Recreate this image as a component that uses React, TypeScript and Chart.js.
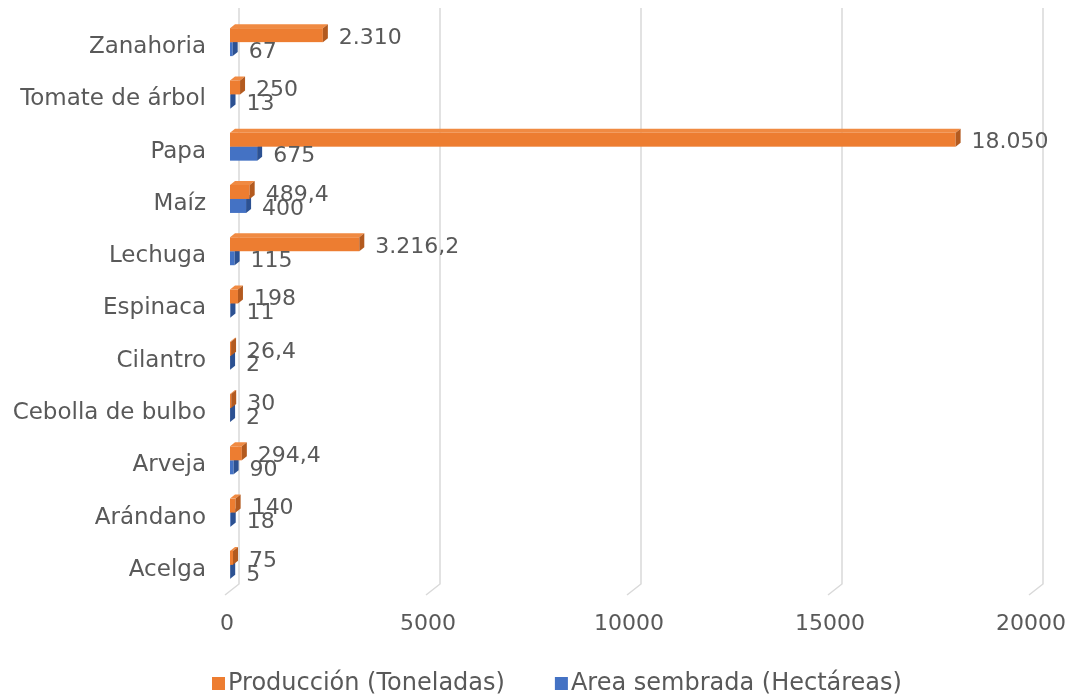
import React, { useEffect, useRef } from "react";
import { Chart, registerables } from "chart.js";

Chart.register(...registerables);

const categories = [
  "Zanahoria",
  "Tomate de árbol",
  "Papa",
  "Maíz",
  "Lechuga",
  "Espinaca",
  "Cilantro",
  "Cebolla de bulbo",
  "Arveja",
  "Arándano",
  "Acelga",
];
const produccion = [2310, 250, 18050, 489.4, 3216.2, 198, 26.4, 30, 294.4, 140, 75];
const areaSembrada = [67, 13, 675, 400, 115, 11, 2, 2, 90, 18, 5];
const xTicks = [0, 5000, 10000, 15000, 20000];
const seriesNames = ["Producción (Toneladas)", "Area sembrada (Hectáreas)"];

const FONT = "'DejaVu Sans', Verdana, sans-serif";
const TEXT = "#595959";
const COLORS = [
  { front: "#ED7D31", top: "#F08A42", side: "#B35A1F" },
  { front: "#4472C4", top: "#5A84CE", side: "#2C5192" },
];

function fmtEs(v: number): string {
  const s = String(v);
  const [i, d] = s.split(".");
  const ig = i.replace(/\B(?=(\d{3})+(?!\d))/g, ".");
  return d ? ig + "," + d : ig;
}

const DX = 5;
const DY = 4;

const threeD = {
  id: "threeD",
  beforeDatasetsDraw(chart: any) {
    const ctx = chart.ctx;
    const xs = chart.scales.x;
    const { top, bottom } = chart.chartArea;
    ctx.save();
    ctx.strokeStyle = "#D9D9D9";
    ctx.lineWidth = 1.5;
    for (const v of xTicks) {
      const px = xs.getPixelForValue(v);
      ctx.beginPath();
      ctx.moveTo(px + 9, top - 8);
      ctx.lineTo(px + 9, bottom - 7);
      ctx.lineTo(px - 5, bottom + 4);
      ctx.stroke();
    }
    for (let di = chart.data.datasets.length - 1; di >= 0; di--) {
      const meta = chart.getDatasetMeta(di);
      const c = COLORS[di];
      meta.data.forEach((el: any) => {
        const p = el.getProps(["x", "y", "base", "height"], true);
        const l = Math.min(p.x, p.base);
        const r = Math.max(p.x, p.base);
        const t = p.y - p.height / 2;
        const b = p.y + p.height / 2;
        ctx.fillStyle = c.front;
        ctx.fillRect(l, t, r - l, b - t);
        ctx.fillStyle = c.top;
        ctx.beginPath();
        ctx.moveTo(l, t);
        ctx.lineTo(l + DX, t - DY);
        ctx.lineTo(r + DX, t - DY);
        ctx.lineTo(r, t);
        ctx.closePath();
        ctx.fill();
        ctx.fillStyle = c.side;
        ctx.beginPath();
        ctx.moveTo(r, t);
        ctx.lineTo(r + DX, t - DY);
        ctx.lineTo(r + DX, b - DY);
        ctx.lineTo(r, b);
        ctx.closePath();
        ctx.fill();
      });
    }
    ctx.restore();
    return false;
  },
  afterDraw(chart: any) {
    const ctx = chart.ctx;
    const xs = chart.scales.x;
    const ys = chart.scales.y;
    ctx.save();
    ctx.fillStyle = TEXT;
    ctx.font = `22px ${FONT}`;
    ctx.textAlign = "left";
    ctx.textBaseline = "middle";
    chart.data.datasets.forEach((ds: any, di: number) => {
      const meta = chart.getDatasetMeta(di);
      meta.data.forEach((el: any, i: number) => {
        const p = el.getProps(["x", "y", "base"], true);
        const r = Math.max(p.x, p.base);
        ctx.fillText(fmtEs(ds.data[i]), r + 16, p.y + 3);
      });
    });
    ctx.font = `23px ${FONT}`;
    ctx.textAlign = "right";
    categories.forEach((c, i) => {
      ctx.fillText(c, 206, ys.getPixelForValue(i) + 5);
    });
    ctx.font = `22px ${FONT}`;
    ctx.textAlign = "center";
    for (const v of xTicks) {
      ctx.fillText(String(v), xs.getPixelForValue(v) - 3, 624);
    }
    ctx.font = `24px ${FONT}`;
    ctx.textAlign = "left";
    let lx = 212;
    seriesNames.forEach((n, i) => {
      ctx.fillStyle = COLORS[i].front;
      ctx.fillRect(lx, 677, 13, 13);
      ctx.fillStyle = TEXT;
      ctx.fillText(n, lx + 16, 684);
      lx += 16 + ctx.measureText(n).width + 50;
    });
    ctx.restore();
  },
};

export default function App() {
  const ref = useRef<HTMLCanvasElement | null>(null);
  useEffect(() => {
    if (!ref.current) return;
    const chart = new Chart(ref.current, {
      type: "bar",
      data: {
        labels: categories,
        datasets: [
          { label: seriesNames[0], data: produccion, backgroundColor: COLORS[0].front },
          { label: seriesNames[1], data: areaSembrada, backgroundColor: COLORS[1].front },
        ],
      },
      options: {
        indexAxis: "y",
        animation: false,
        responsive: false,
        datasets: { bar: { categoryPercentage: 0.535, barPercentage: 1 } },
        layout: { padding: { left: 230, right: 35, top: 16, bottom: 107 } },
        scales: {
          x: { type: "linear", min: 0, max: 20000, display: false },
          y: { type: "category", display: false },
        },
        plugins: { legend: { display: false }, tooltip: { enabled: false } },
      },
      plugins: [threeD],
    } as any);
    return () => chart.destroy();
  }, []);
  return (
    <div style={{ position: "absolute", left: 0, top: 0, width: 1069, height: 698, background: "#fff" }}>
      <canvas ref={ref} width={1069} height={698} />
    </div>
  );
}
